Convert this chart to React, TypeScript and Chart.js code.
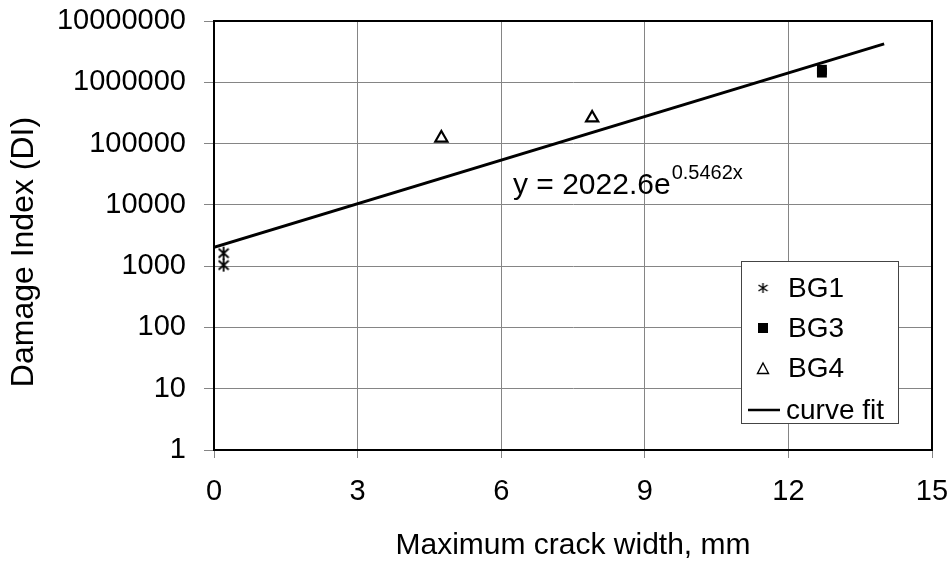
import React, { useEffect, useRef } from 'react';
import { Chart, registerables } from 'chart.js';
Chart.register(...registerables);

const bg1X = [0.2, 0.2];
const bg1Y = [1630, 1040];
const bg3X = [12.7, 12.7];
const bg3Y = [1600000, 1440000];
const bg4X = [4.75, 7.9];
const bg4Y = [123000, 262000];
const fitX = [0, 14];
const fitY = [2022.6, 4240000];
const xTicks = [0, 3, 6, 9, 12, 15];
const yTicks = [1, 10, 100, 1000, 10000, 100000, 1000000, 10000000];
const seriesNames = ['BG1', 'BG3', 'BG4', 'curve fit'];
const equationMain = 'y = 2022.6e';
const equationExp = '0.5462x';
const xTitle = 'Maximum crack width, mm';
const yTitle = 'Damage Index (DI)';

const FONT = '"Liberation Sans", Arial, Helvetica, sans-serif';

function makeAsterisk(w: number, h: number, lw: number) {
  const c = document.createElement('canvas');
  c.width = w;
  c.height = h;
  const ctx = c.getContext('2d')!;
  ctx.strokeStyle = '#000';
  ctx.lineWidth = lw;
  const mx = w / 2;
  const my = h / 2;
  ctx.beginPath();
  ctx.moveTo(mx, 1);
  ctx.lineTo(mx, h - 1);
  const dx = w / 2 - 1;
  const dy = h / 2 - 3;
  ctx.moveTo(mx - dx, my - dy);
  ctx.lineTo(mx + dx, my + dy);
  ctx.moveTo(mx + dx, my - dy);
  ctx.lineTo(mx - dx, my + dy);
  ctx.stroke();
  return c;
}

function triPath(ctx: CanvasRenderingContext2D, x: number, y: number, s: number) {
  ctx.beginPath();
  ctx.moveTo(x, y - s * 0.6);
  ctx.lineTo(x + s * 0.55, y + s * 0.45);
  ctx.lineTo(x - s * 0.55, y + s * 0.45);
  ctx.closePath();
}

const overlayPlugin = {
  id: 'overlay',
  afterDraw(chart: any) {
    const ctx: CanvasRenderingContext2D = chart.ctx;
    const a = chart.chartArea;
    ctx.save();
    // plot border
    ctx.strokeStyle = '#000';
    ctx.lineWidth = 2;
    ctx.strokeRect(a.left, a.top, a.right - a.left, a.bottom - a.top);

    // y title
    ctx.save();
    ctx.translate(24, 252);
    ctx.rotate(-Math.PI / 2);
    ctx.fillStyle = '#000';
    ctx.font = `32px ${FONT}`;
    ctx.textAlign = 'center';
    ctx.textBaseline = 'middle';
    ctx.fillText(yTitle, 0, 0);
    ctx.restore();

    // equation
    ctx.fillStyle = '#000';
    ctx.textBaseline = 'alphabetic';
    ctx.textAlign = 'left';
    ctx.font = `30px ${FONT}`;
    const ex = 513;
    const ey = 194;
    ctx.fillText(equationMain, ex, ey);
    const w = ctx.measureText(equationMain).width;
    ctx.font = `20px ${FONT}`;
    ctx.fillText(equationExp, ex + w + 1, ey - 15);

    // legend box
    const lx = 741, ly = 261, lw = 157, lh = 162;
    ctx.fillStyle = '#fff';
    ctx.fillRect(lx, ly, lw, lh);
    ctx.strokeStyle = '#444';
    ctx.lineWidth = 1;
    ctx.strokeRect(lx + 0.5, ly + 0.5, lw, lh);
    const rows = [288, 328, 368, 410];
    const mx = 763;
    ctx.drawImage(makeAsterisk(11, 12, 1.4), mx - 5.5, rows[0] - 6);
    ctx.fillStyle = '#000';
    ctx.fillRect(mx - 5, rows[1] - 5, 10, 10);
    ctx.strokeStyle = '#000';
    ctx.lineWidth = 1.4;
    triPath(ctx, mx, rows[2] + 1, 10);
    ctx.stroke();
    ctx.lineWidth = 2.5;
    ctx.beginPath();
    ctx.moveTo(748, rows[3]);
    ctx.lineTo(780, rows[3]);
    ctx.stroke();
    ctx.fillStyle = '#000';
    ctx.font = `28px ${FONT}`;
    ctx.textBaseline = 'middle';
    seriesNames.forEach((n, i) => {
      ctx.fillText(n, i === 3 ? 786 : 788, rows[i] + 1);
    });
    ctx.restore();
  },
};

export default function App() {
  const ref = useRef<HTMLCanvasElement>(null);
  useEffect(() => {
    if (!ref.current) return;
    const asterisk = makeAsterisk(12, 15, 1.8);
    const toPts = (xs: number[], ys: number[]) => xs.map((x, i) => ({ x, y: ys[i] }));
    const chart = new Chart(ref.current, {
      type: 'scatter',
      data: {
        datasets: [
          {
            label: seriesNames[0],
            data: toPts(bg1X, bg1Y),
            pointStyle: asterisk as any,
            pointRadius: 7,
            borderColor: '#000',
            backgroundColor: '#000',
          },
          {
            label: seriesNames[1],
            data: toPts(bg3X, bg3Y),
            pointStyle: 'rect',
            pointRadius: 7,
            borderWidth: 0,
            borderColor: '#000',
            backgroundColor: '#000',
          },
          {
            label: seriesNames[2],
            data: toPts(bg4X, bg4Y),
            pointStyle: 'triangle',
            pointRadius: 7,
            borderWidth: 2.2,
            borderColor: '#000',
            backgroundColor: 'rgba(0,0,0,0)',
          },
          {
            label: seriesNames[3],
            data: toPts(fitX, fitY),
            showLine: true,
            pointRadius: 0,
            borderWidth: 3,
            borderColor: '#000',
            backgroundColor: '#000',
          } as any,
        ],
      },
      options: {
        animation: false,
        responsive: true,
        maintainAspectRatio: false,
        layout: { padding: { top: 21, right: 20, bottom: 0, left: 0 } },
        plugins: {
          legend: { display: false },
          tooltip: { enabled: false },
        },
        scales: {
          x: {
            type: 'linear',
            min: 0,
            max: 15,
            afterBuildTicks: (s: any) => {
              s.ticks = xTicks.map((v) => ({ value: v }));
            },
            afterFit: (s: any) => {
              s.height = 112;
              s.paddingLeft = 0;
              s.paddingRight = 0;
            },
            ticks: {
              color: '#000',
              font: { family: FONT, size: 29 },
              padding: 17,
              maxRotation: 0,
            },
            grid: { color: '#858585', lineWidth: 1, tickLength: 8, tickColor: '#858585' },
            border: { color: '#000', width: 2 },
            title: {
              display: true,
              text: xTitle,
              color: '#000',
              font: { family: FONT, size: 30, lineHeight: 1 },
              padding: { top: 0, bottom: 1 },
            },
          },
          y: {
            type: 'logarithmic',
            min: 1,
            max: 10000000,
            afterBuildTicks: (s: any) => {
              s.ticks = yTicks.map((v) => ({ value: v }));
            },
            afterFit: (s: any) => {
              s.width = 214;
              s.paddingTop = 0;
              s.paddingBottom = 0;
            },
            ticks: {
              color: '#000',
              font: { family: FONT, size: 29 },
              padding: 18,
              callback: (v: any) => String(v),
            },
            grid: { color: '#858585', lineWidth: 1, tickLength: 10, tickColor: '#858585' },
            border: { color: '#000', width: 2 },
          },
        },
      } as any,
      plugins: [overlayPlugin],
    });
    return () => chart.destroy();
  }, []);
  return (
    <div style={{ position: 'absolute', left: 0, top: 0, width: 952, height: 562 }}>
      <canvas ref={ref} />
    </div>
  );
}
